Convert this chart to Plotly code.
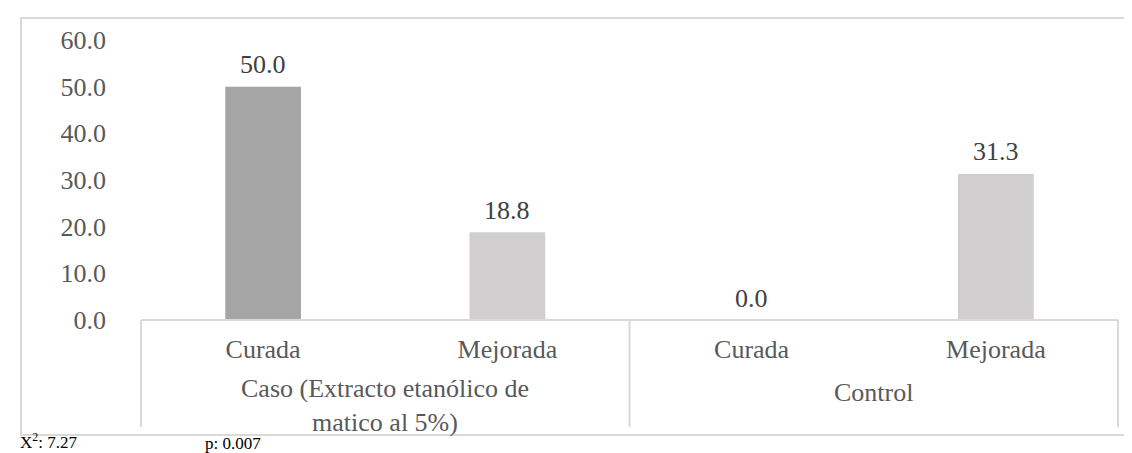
import plotly.graph_objects as go

# Data
groups = ["Caso (Extracto etanólico de<br>matico al 5%)", "Control"]
subcats = ["Curada", "Mejorada", "Curada", "Mejorada"]
values = [50.0, 18.8, 0.0, 31.3]
bar_colors = ["#a5a5a5", "#d0cece", "#a5a5a5", "#d0cece"]
y_ticks = [0, 10, 20, 30, 40, 50, 60]
footer_chi = "X<sup>2</sup>: 7.27"
footer_p = "p: 0.007"

W, H = 1132, 453
L, R, T, B = 133, 1110, 32, 312  # plot area in pixels


def xp(px):
    return (px - L) / (R - L)


def yp(py):
    return (B - py) / (B - T)


FONT = "Liberation Serif"
FS = 26
positions = list(range(len(values)))

fig = go.Figure()
fig.add_trace(go.Bar(
    x=positions, y=values, width=0.31,
    marker=dict(color=bar_colors, line=dict(width=0)),
    hoverinfo="skip", cliponaxis=False,
))

annotations = []
for x, v in zip(positions, values):
    annotations.append(dict(
        x=x, y=v, xref="x", yref="y", text=f"{v:.1f}", showarrow=False,
        yanchor="middle", yshift=22,
        font=dict(family=FONT, size=FS, color="#404040"),
    ))
# group labels
annotations.append(dict(
    x=0.5, y=yp(397), xref="x", yref="paper", text=groups[0], showarrow=False,
    yanchor="middle", align="center",
    font=dict(family=FONT, size=FS, color="#595959"),
))
annotations.append(dict(
    x=2.5, y=yp(384), xref="x", yref="paper", text=groups[1], showarrow=False,
    yanchor="middle", align="center",
    font=dict(family=FONT, size=FS, color="#595959"),
))
# footer
annotations.append(dict(
    x=xp(10), y=yp(433), xref="paper", yref="paper", text=footer_chi, showarrow=False,
    xanchor="left", yanchor="middle",
    font=dict(family=FONT, size=17, color="#000000"),
))
annotations.append(dict(
    x=xp(195), y=yp(435), xref="paper", yref="paper", text=footer_p, showarrow=False,
    xanchor="left", yanchor="middle",
    font=dict(family=FONT, size=17, color="#000000"),
))

line_col = "#d9d9d9"
shapes = [
    # outer chart border
    dict(type="rect", xref="paper", yref="paper",
         x0=xp(13), x1=xp(1140), y0=yp(427), y1=yp(10),
         line=dict(color=line_col, width=2), layer="below"),
    # category box top line (axis)
    dict(type="line", xref="paper", yref="paper",
         x0=0, x1=1, y0=0, y1=0, line=dict(color=line_col, width=2)),
]
for xv in [0, 0.5, 1]:
    shapes.append(dict(type="line", xref="paper", yref="paper",
                       x0=xv, x1=xv, y0=0, y1=yp(419),
                       line=dict(color=line_col, width=2)))

fig.update_layout(
    width=W, height=H,
    margin=dict(l=L, r=W - R, t=T, b=H - B, pad=0),
    paper_bgcolor="white", plot_bgcolor="white",
    showlegend=False,
    font=dict(family=FONT),
    xaxis=dict(
        range=[-0.5, 3.5], tickvals=positions, ticktext=subcats,
        showgrid=False, zeroline=False, showline=False, ticks="",
        tickfont=dict(family=FONT, size=FS, color="#595959"),
        ticklabelstandoff=11, fixedrange=True,
    ),
    yaxis=dict(
        range=[0, 60], tickvals=y_ticks, tickformat=".1f",
        showgrid=False, zeroline=False, showline=False, ticks="",
        tickfont=dict(family=FONT, size=FS, color="#595959"),
        ticklabelstandoff=34, fixedrange=True,
    ),
    annotations=annotations,
    shapes=shapes,
)

fig.write_html("out.html")
